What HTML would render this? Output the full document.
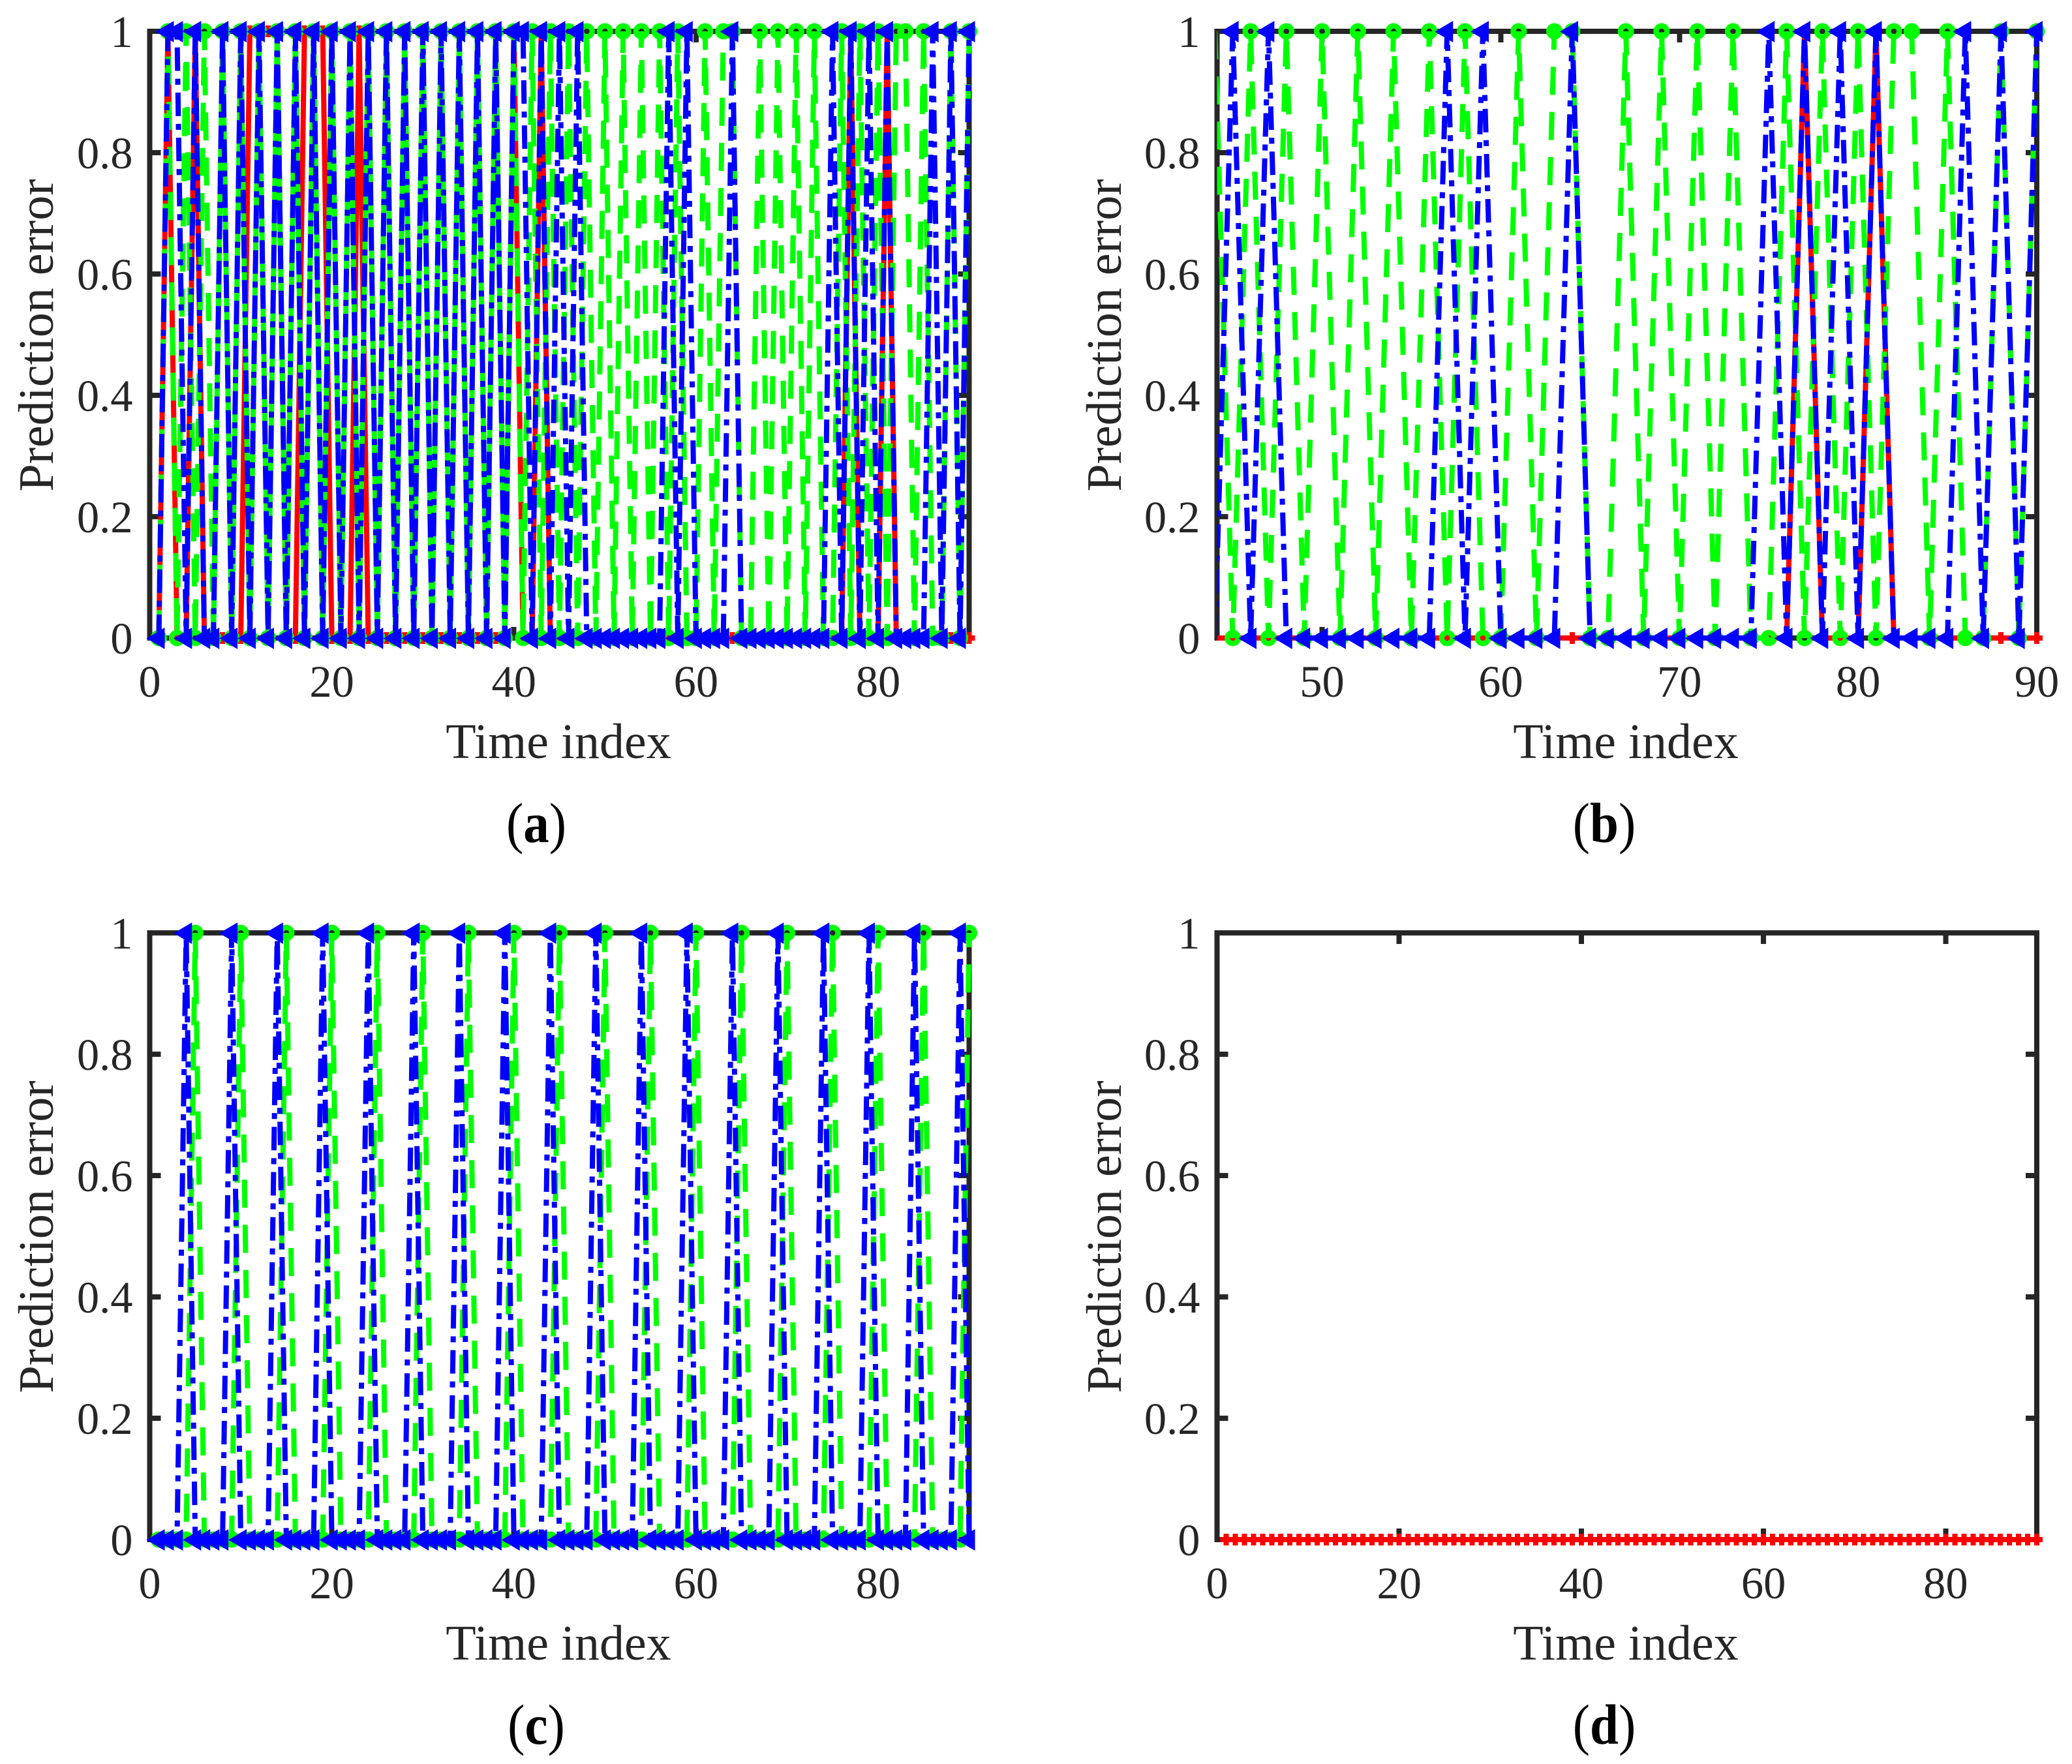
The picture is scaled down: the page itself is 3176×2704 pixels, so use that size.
<!DOCTYPE html>
<html lang="en">
<head>
<meta charset="utf-8">
<title>Prediction error panels</title>
<style>
html,body{margin:0;padding:0;background:#fff;}
svg{display:block;font-family:"Liberation Serif","Times New Roman",serif;}
.tick-label{font-size:68.5px;fill:#262626;}
.axis-title{font-size:76px;fill:#262626;}
.caption{font-size:79px;fill:#000;}
.caption .bold{font-weight:bold;}
</style>
</head>
<body>
<svg id="figure" xmlns="http://www.w3.org/2000/svg" width="3176" height="2704" viewBox="0 0 3176 2704">
  <rect x="0" y="0" width="3176" height="2704" fill="#ffffff"/>

  <g id="panel-a">
    <text class="axis-title" transform="translate(81,514) rotate(-90)" text-anchor="middle">Prediction error</text>
    <text class="axis-title" x="856" y="1162" text-anchor="middle">Time index</text>
    <text class="caption" transform="translate(822,1291) scale(1,1.1)" text-anchor="middle">(<tspan class="bold">a</tspan>)</text>
  </g>
  <g id="panel-b">
    <text class="axis-title" transform="translate(1718,514) rotate(-90)" text-anchor="middle">Prediction error</text>
    <text class="axis-title" x="2492" y="1162" text-anchor="middle">Time index</text>
    <text class="caption" transform="translate(2459,1291) scale(1,1.1)" text-anchor="middle">(<tspan class="bold">b</tspan>)</text>
  </g>
  <g id="panel-c">
    <text class="axis-title" transform="translate(81,1896) rotate(-90)" text-anchor="middle">Prediction error</text>
    <text class="axis-title" x="856" y="2544" text-anchor="middle">Time index</text>
    <text class="caption" transform="translate(822,2673) scale(1,1.1)" text-anchor="middle">(<tspan class="bold">c</tspan>)</text>
  </g>
  <g id="panel-d">
    <text class="axis-title" transform="translate(1718,1896) rotate(-90)" text-anchor="middle">Prediction error</text>
    <text class="axis-title" x="2492" y="2544" text-anchor="middle">Time index</text>
    <text class="caption" transform="translate(2459,2673) scale(1,1.1)" text-anchor="middle">(<tspan class="bold">d</tspan>)</text>
  </g>
</svg>

<script>
const timeFull = [
  1,2,3,4,5,6,7,8,9,10,
  11,12,13,14,15,16,17,18,19,20,
  21,22,23,24,25,26,27,28,29,30,
  31,32,33,34,35,36,37,38,39,40,
  41,42,43,44,45,46,47,48,49,50,
  51,52,53,54,55,56,57,58,59,60,
  61,62,63,64,65,66,67,68,69,70,
  71,72,73,74,75,76,77,78,79,80,
  81,82,83,84,85,86,87,88,89,90];
const timeTail = [
  44,45,46,47,48,49,50,
  51,52,53,54,55,56,57,58,59,60,
  61,62,63,64,65,66,67,68,69,70,
  71,72,73,74,75,76,77,78,79,80,
  81,82,83,84,85,86,87,88,89,90];

const redA = [
  0,1,0,0,1,0,0,0,0,0,
  1,1,1,1,0,0,1,1,1,0,
  0,0,1,0,0,0,0,0,0,0,
  0,0,0,0,0,0,0,0,0,1,
  0,0,1,0,0,0,0,0,0,0,
  0,0,0,0,0,0,0,0,0,0,
  0,0,0,0,0,0,0,0,0,0,
  0,0,0,0,0,0,1,0,0,0,
  1,0,0,0,0,0,0,0,0,0];
const greenA = [
  0,1,0,1,0,1,0,1,0,1,
  0,1,0,1,0,1,0,1,0,1,
  0,1,0,1,0,1,0,1,0,1,
  0,1,0,1,0,1,0,1,0,1,
  0,1,0,1,0,1,0,1,0,1,
  0,1,0,1,0,1,0,1,0,0,
  1,0,1,1,0,0,1,0,1,0,
  1,0,1,0,0,1,0,1,0,1,
  0,1,1,0,1,0,0,1,0,1];
const blueA = [
  0,1,1,0,1,0,0,1,0,1,
  0,1,0,1,0,1,0,1,0,1,
  0,1,0,1,0,1,0,1,0,1,
  0,1,0,1,0,1,0,1,0,1,
  1,0,1,0,1,0,1,0,0,0,
  0,0,0,0,0,0,1,0,1,0,
  0,0,0,1,0,0,0,0,0,0,
  0,0,0,0,1,0,1,0,1,0,
  1,0,0,0,0,1,0,1,0,1];

const redB = [
  0,0,0,0,0,0,0,
  0,0,0,0,0,0,0,0,0,0,
  0,0,0,0,0,0,0,0,0,0,
  0,0,0,0,0,0,1,0,0,0,
  1,0,0,0,0,0,0,0,0,0];
const greenB = [
  1,0,1,0,1,0,1,
  0,1,0,1,0,1,0,1,0,0,
  1,0,1,1,0,0,1,0,1,0,
  1,0,1,0,0,1,0,1,0,1,
  0,1,1,0,1,0,0,1,0,1];
const blueB = [
  0,1,0,1,0,0,0,
  0,0,0,0,0,0,1,0,1,0,
  0,0,0,1,0,0,0,0,0,0,
  0,0,0,0,1,0,1,0,1,0,
  1,0,0,0,0,1,0,1,0,1];

const redC = [
  0,0,0,0,0,0,0,0,0,0,
  0,0,0,0,0,0,0,0,0,0,
  0,0,0,0,0,0,0,0,0,0,
  0,0,0,0,0,0,0,0,0,0,
  0,0,0,0,0,0,0,0,0,0,
  0,0,0,0,0,0,0,0,0,0,
  0,0,0,0,0,0,0,0,0,0,
  0,0,0,0,0,0,0,0,0,0,
  0,0,0,0,0,0,0,0,0,0];
const greenC = [
  0,0,0,0,1,0,0,0,0,1,
  0,0,0,0,1,0,0,0,0,1,
  0,0,0,0,1,0,0,0,0,1,
  0,0,0,0,1,0,0,0,0,1,
  0,0,0,0,1,0,0,0,0,1,
  0,0,0,0,1,0,0,0,0,1,
  0,0,0,0,1,0,0,0,0,1,
  0,0,0,0,1,0,0,0,0,1,
  0,0,0,0,1,0,0,0,0,1];
const blueC = [
  0,0,0,1,0,0,0,0,1,0,
  0,0,0,1,0,0,0,0,1,0,
  0,0,0,1,0,0,0,0,1,0,
  0,0,0,1,0,0,0,0,1,0,
  0,0,0,1,0,0,0,0,1,0,
  0,0,0,1,0,0,0,0,1,0,
  0,0,0,1,0,0,0,0,1,0,
  0,0,0,1,0,0,0,0,1,0,
  0,0,0,1,0,0,0,0,1,0];

const redD = [
  0,0,0,0,0,0,0,0,0,0,
  0,0,0,0,0,0,0,0,0,0,
  0,0,0,0,0,0,0,0,0,0,
  0,0,0,0,0,0,0,0,0,0,
  0,0,0,0,0,0,0,0,0,0,
  0,0,0,0,0,0,0,0,0,0,
  0,0,0,0,0,0,0,0,0,0,
  0,0,0,0,0,0,0,0,0,0,
  0,0,0,0,0,0,0,0,0,0];
const greenD = [];
const blueD = [];

const yTicks = [0,0.2,0.4,0.6,0.8,1];
const yTickLabels = ['0','0.2','0.4','0.6','0.8','1'];
const xTicksFull = [0,20,40,60,80];
const xTickLabelsFull = ['0','20','40','60','80'];
const xTicksTail = [50,60,70,80,90];
const xTickLabelsTail = ['50','60','70','80','90'];

const SVG_NS = 'http://www.w3.org/2000/svg';
const FRAME_COLOR = '#262626';

function make(parent, tag, attrs) {
  const el = document.createElementNS(SVG_NS, tag);
  for (const key in attrs) el.setAttribute(key, attrs[key]);
  parent.appendChild(el);
  return el;
}

function drawAxes(panel) {
  const g = document.getElementById(panel.id);
  const xScale = function (v) { return panel.left + (v - panel.xMin) * (panel.right - panel.left) / (panel.xMax - panel.xMin); };
  const yScale = function (v) { return panel.bottom - v * (panel.bottom - panel.top); };

  const frame = make(g, 'rect', {x: panel.left, y: panel.top, width: panel.right - panel.left, height: panel.bottom - panel.top, fill: 'none', stroke: FRAME_COLOR, 'stroke-width': 8, 'shape-rendering': 'crispEdges'});
  
  

  yTicks.forEach(function (v, i) {
    const y = yScale(v);
    const left = make(g, 'line', {x1: panel.left, x2: panel.left + 17, y1: y, y2: y, stroke: FRAME_COLOR, 'stroke-width': 8, 'shape-rendering': 'crispEdges'});
    
    
    const right = make(g, 'line', {x1: panel.right, x2: panel.right - 17, y1: y, y2: y, stroke: FRAME_COLOR, 'stroke-width': 8, 'shape-rendering': 'crispEdges'});
    
    
    const label = make(g, 'text', {'class': 'tick-label', x: panel.left - 26, y: y + 24, 'text-anchor': 'end'});
    label.textContent = yTickLabels[i];
    
    
  });

  panel.xTicks.forEach(function (v, i) {
    const x = xScale(v);
    const bottom = make(g, 'line', {x1: x, x2: x, y1: panel.bottom, y2: panel.bottom - 17, stroke: FRAME_COLOR, 'stroke-width': 8, 'shape-rendering': 'crispEdges'});
    
    
    const top = make(g, 'line', {x1: x, x2: x, y1: panel.top, y2: panel.top + 17, stroke: FRAME_COLOR, 'stroke-width': 8, 'shape-rendering': 'crispEdges'});
    
    
    const label = make(g, 'text', {'class': 'tick-label', x: x, y: panel.bottom + 90, 'text-anchor': 'middle'});
    label.textContent = panel.xTickLabels[i];
    
    
  });

  const clip = make(g, 'clipPath', {id: panel.id + '-clip'});
  make(clip, 'rect', {x: panel.left, y: panel.top - 6, width: panel.right - panel.left + 10, height: panel.bottom - panel.top + 12});

  return {g: g, xScale: xScale, yScale: yScale};
}

function linePoints(xs, ys, axes) {
  return ys.map(function (v, i) { return axes.xScale(xs[i]) + ',' + axes.yScale(v); }).join(' ');
}

function drawRed(panel, axes) {
  if (!panel.red.length) return;
  const xs = panel.time;
  const line = make(axes.g, 'polyline', {points: linePoints(xs, panel.red, axes), fill: 'none', stroke: '#ff0000', 'stroke-width': 8, 'stroke-linejoin': 'miter', 'clip-path': 'url(#' + panel.id + '-clip)'});
  
  
  panel.red.forEach(function (v, i) {
    if (xs[i] < panel.xMin) return;
    const x = axes.xScale(xs[i]);
    const y = axes.yScale(v);
    const mark = make(axes.g, 'path', {d: 'M' + (x - 9) + ' ' + y + 'H' + (x + 9) + 'M' + x + ' ' + (y - 9) + 'V' + (y + 9), fill: 'none', stroke: '#ff0000', 'stroke-width': 8, 'shape-rendering': 'crispEdges'});
    
    
  });
}

function drawGreen(panel, axes) {
  if (!panel.green.length) return;
  const xs = panel.time;
  const line = make(axes.g, 'polyline', {points: linePoints(xs, panel.green, axes), fill: 'none', stroke: '#00ff00', 'stroke-width': 8, 'stroke-dasharray': '43 26.2', 'stroke-linejoin': 'miter', 'clip-path': 'url(#' + panel.id + '-clip)'});
  
  
  panel.green.forEach(function (v, i) {
    if (xs[i] < panel.xMin) return;
    const mark = make(axes.g, 'circle', {cx: axes.xScale(xs[i]), cy: axes.yScale(v), r: 8.4, fill: 'none', stroke: '#00ff00', 'stroke-width': 8.2});
    
    
  });
}

function drawBlue(panel, axes) {
  if (!panel.blue.length) return;
  const xs = panel.time;
  const line = make(axes.g, 'polyline', {points: linePoints(xs, panel.blue, axes), fill: 'none', stroke: '#0000ff', 'stroke-width': 8, 'stroke-dasharray': '36 12 9.2 12', 'stroke-linejoin': 'miter', 'clip-path': 'url(#' + panel.id + '-clip)'});
  
  
  panel.blue.forEach(function (v, i) {
    if (xs[i] < panel.xMin) return;
    const x = axes.xScale(xs[i]);
    const y = axes.yScale(v) + 0.5;
    const mark = make(axes.g, 'polygon', {points: (x - 19) + ',' + y + ' ' + (x + 9) + ',' + (y - 16.5) + ' ' + (x + 9) + ',' + (y + 16.5), fill: '#0000ff'});
    
    
  });
}

const panels = [
  {id: 'panel-a', left: 229.5, right: 1485.5, top: 48, bottom: 978, xMin: 0, xMax: 90, xTicks: xTicksFull, xTickLabels: xTickLabelsFull, time: timeFull, red: redA, green: greenA, blue: blueA},
  {id: 'panel-b', left: 1865.5, right: 3122, top: 48, bottom: 978, xMin: 44.12, xMax: 90, xTicks: xTicksTail, xTickLabels: xTickLabelsTail, time: timeTail, red: redB, green: greenB, blue: blueB},
  {id: 'panel-c', left: 229.5, right: 1485.5, top: 1430, bottom: 2360, xMin: 0, xMax: 90, xTicks: xTicksFull, xTickLabels: xTickLabelsFull, time: timeFull, red: redC, green: greenC, blue: blueC},
  {id: 'panel-d', left: 1865.5, right: 3122, top: 1430, bottom: 2360, xMin: 0, xMax: 90, xTicks: xTicksFull, xTickLabels: xTickLabelsFull, time: timeFull, red: redD, green: greenD, blue: blueD}
];

panels.forEach(function (panel) {
  const axes = drawAxes(panel);
  drawRed(panel, axes);
  drawGreen(panel, axes);
  drawBlue(panel, axes);
});
</script>
</body>
</html>
